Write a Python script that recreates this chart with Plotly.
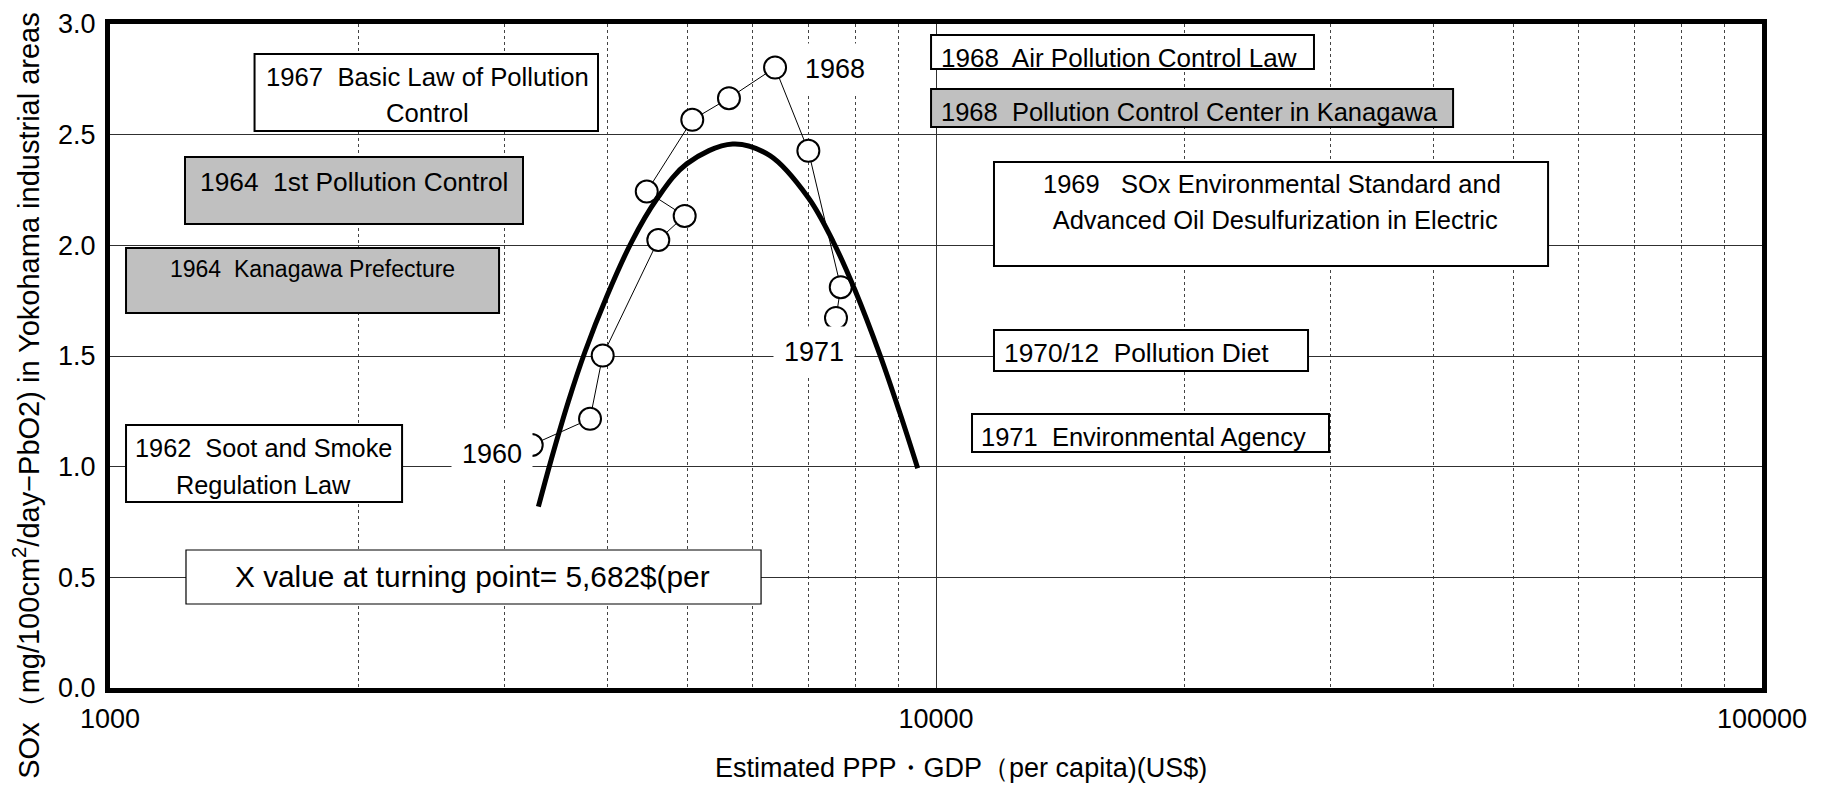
import plotly.graph_objects as go

# ---------------- data ----------------
years = ["1960", "1961", "1962", "1963", "1964", "1965", "1966", "1967",
         "1968", "1969", "1970", "1971"]
gdp_per_capita = [3240, 3812, 3949, 4611, 4963, 4465, 5069, 5615, 6385, 7006, 7668, 7567]
sox_level = [1.098, 1.216, 1.502, 2.024, 2.133, 2.243, 2.567, 2.665, 2.803, 2.427, 1.811, 1.672]

# fitted (quadratic) curve
fit_x = [3301, 3420, 3587, 3758, 3995, 4281, 4590, 4991, 5673, 6295, 7006, 7511, 7977, 8553, 9045, 9502]
fit_y = [0.819, 1.030, 1.292, 1.518, 1.770, 2.016, 2.208, 2.368, 2.458, 2.405, 2.215, 2.015, 1.798, 1.505, 1.241, 0.993]

x_tick_vals = [1000, 10000, 100000]
x_tick_text = ["1000", "10000", "100000"]
x_minor_vals = [2000, 3000, 4000, 5000, 6000, 7000, 8000, 9000,
                20000, 30000, 40000, 50000, 60000, 70000, 80000, 90000]

x_title = "Estimated PPP・GDP（per capita)(US$)"
y_title = "SOx（mg/100cm<sup>2</sup>/day−PbO2) in Yokohama industrial areas"

FONT = "Liberation Sans, Arial, sans-serif"

fig = go.Figure()

fig.add_trace(go.Scatter(
    x=gdp_per_capita, y=sox_level, mode="lines+markers",
    line=dict(color="black", width=1),
    marker=dict(symbol="circle", size=22, color="white",
                line=dict(color="black", width=2)),
    text=years, hoverinfo="text+x+y", showlegend=False))

fig.add_trace(go.Scatter(
    x=fit_x, y=fit_y, mode="lines",
    line=dict(color="black", width=5, shape="spline", smoothing=1.0),
    showlegend=False, hoverinfo="skip"))

# ---------------- policy boxes (paper coords) ----------------
boxes = [
    # x0, x1, y0, y1, fill, border width
    (0.0875, 0.2954, 0.8389, 0.9548, "white", 2),
    (0.0454, 0.2500, 0.6988, 0.7997, "#c0c0c0", 2),
    (0.0097, 0.2355, 0.5648, 0.6627, "#c0c0c0", 2),
    (0.0097, 0.1768, 0.2801, 0.3961, "white", 2),
    (0.0460, 0.3941, 0.1265, 0.2078, "white", 1.2),
    (0.4970, 0.7288, 0.9322, 0.9834, "white", 2),
    (0.4970, 0.8130, 0.8449, 0.9021, "#c0c0c0", 2),
    (0.5351, 0.8705, 0.6355, 0.7922, "white", 2),
    (0.5351, 0.7252, 0.4774, 0.5392, "white", 2),
    (0.5218, 0.7379, 0.3554, 0.4127, "white", 2),
]
for x0, x1, y0, y1, fc, lw in boxes:
    fig.add_shape(type="rect", xref="paper", yref="paper", x0=x0, x1=x1, y0=y0, y1=y1,
                  fillcolor=fc, line=dict(color="black", width=lw), layer="above")

texts = [
    # text, x, y, xanchor, size
    ("1967  Basic Law of Pollution", 0.1922, 0.9202, "center", 25.7),
    ("Control", 0.1922, 0.8660, "center", 25.7),
    ("1964  1st Pollution Control", 0.1477, 0.7620, "center", 26.3),
    ("1964  Kanagawa Prefecture", 0.1226, 0.6310, "center", 23),
    ("1962  Soot and Smoke", 0.0932, 0.3614, "center", 25.3),
    ("Regulation Law", 0.0932, 0.3057, "center", 25.3),
    ("X value at turning point= 5,682$(per", 0.2197, 0.1672, "center", 29.8),
    ("1968  Air Pollution Control Law", 0.5018, 0.9488, "left", 26),
    ("1968  Pollution Control Center in Kanagawa", 0.5018, 0.8675, "left", 25.5),
    ("1969   SOx Environmental Standard and", 0.7034, 0.7590, "center", 25.5),
    (" Advanced Oil Desulfurization in Electric", 0.7034, 0.7048, "center", 25.5),
    ("1970/12  Pollution Diet", 0.5400, 0.5045, "left", 26.3),
    ("1971  Environmental Agency", 0.5260, 0.3780, "left", 25.5),
]
for t, x, y, xa, sz in texts:
    fig.add_annotation(text=t, xref="paper", yref="paper", x=x, y=y,
                       xanchor=xa, yanchor="middle", showarrow=False, align="center",
                       font=dict(family=FONT, size=sz, color="black"))

# year labels with white background
year_labels = [("1960", 0.2315, 0.3524), ("1968", 0.4389, 0.9322), ("1971", 0.4262, 0.5060)]
for t, x, y in year_labels:
    fig.add_annotation(text=t, xref="paper", yref="paper", x=x, y=y,
                       xanchor="center", yanchor="middle", showarrow=False,
                       bgcolor="white", width=66, height=36, borderpad=7,
                       font=dict(family=FONT, size=27, color="black"))

# axis titles
fig.add_annotation(text=x_title, xref="paper", yref="paper", x=0.5151, y=-0.1205,
                   xanchor="center", yanchor="middle", showarrow=False,
                   font=dict(family=FONT, size=27, color="black"))
fig.add_annotation(text=y_title, xref="paper", yref="paper", x=-0.0505, y=0.441,
                   xanchor="center", yanchor="middle", showarrow=False, textangle=-90,
                   font=dict(family=FONT, size=29, color="black"))

fig.update_xaxes(
    type="log", range=[3, 5],
    tickmode="array", tickvals=x_tick_vals, ticktext=x_tick_text,
    showgrid=True, gridcolor="#303030", gridwidth=1,
    minor=dict(tickmode="array", tickvals=x_minor_vals, showgrid=True,
               gridcolor="#444444", gridwidth=1, griddash="dot", ticks=""),
    showline=True, linecolor="black", linewidth=5, mirror=True,
    ticks="", zeroline=False,
    tickfont=dict(family=FONT, size=27, color="black"),
    ticklabelstandoff=3,
)
fig.update_yaxes(
    range=[0, 3], dtick=0.5, tick0=0, tickformat=".1f",
    showgrid=True, gridcolor="#303030", gridwidth=1,
    showline=True, linecolor="black", linewidth=5, mirror=True,
    ticks="", zeroline=False,
    tickfont=dict(family=FONT, size=27, color="black"),
    ticklabelstandoff=4,
)

# page body has an 8px margin: size the figure so the plot area lands where the reference's does
fig.update_layout(
    width=1805, height=777,
    margin=dict(l=102, r=51, t=16, b=97, autoexpand=False),
    paper_bgcolor="white", plot_bgcolor="white",
    showlegend=False,
)

fig.write_html("out.html")
